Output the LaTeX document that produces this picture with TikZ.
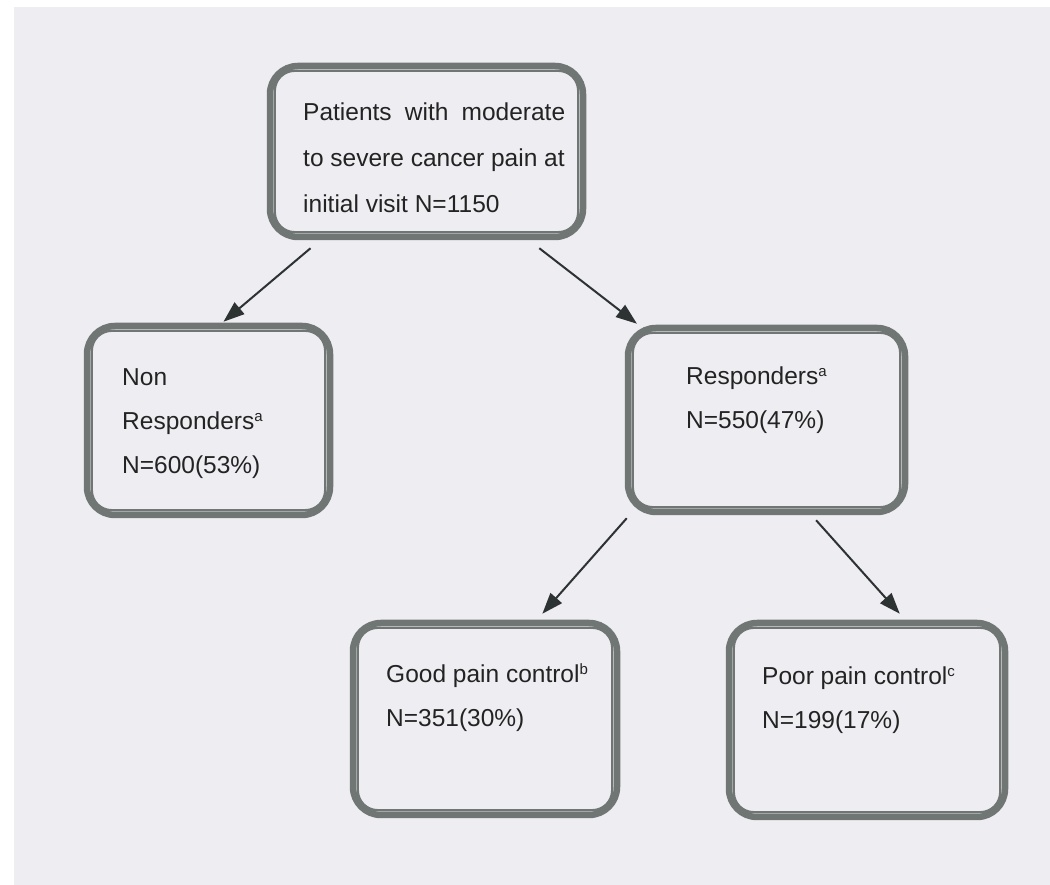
\documentclass[tikz,border=0pt]{standalone}
\usepackage{fontspec}
\setmainfont{Liberation Sans}
\usetikzlibrary{calc,arrows.meta}
\definecolor{paper}{RGB}{238,237,242}
\definecolor{frame}{RGB}{112,118,115}
\definecolor{ink}{RGB}{35,35,35}
\definecolor{arrowc}{RGB}{45,50,50}
\newcommand{\supmark}[1]{\raisebox{8pt}{\fontsize{15}{15}\selectfont #1}}

\begin{document}
\begin{tikzpicture}[x=1pt,y=1pt,
  flowbox/.style={draw=frame, line width=6.5pt, rounded corners=28pt, inner sep=0pt},
  innerline/.style={draw=frame, line width=2.4pt, rounded corners=20pt},
  label/.style={anchor=base west, inner sep=0pt, text=ink, font=\fontsize{24.5}{44}\selectfont},
  link/.style={draw=arrowc, line width=2pt, -{Triangle[length=21pt,width=15pt]}}]
\useasboundingbox (0,0) rectangle (1050,885);
\fill[paper] (14,0) rectangle (1050,878);

% boxes: thick outer frame
\node[flowbox, minimum width=313pt, minimum height=171pt] (top)  at (426.5,733.5) {};
\node[flowbox, minimum width=243pt, minimum height=189pt] (non)  at (208.5,464.5) {};
\node[flowbox, minimum width=277pt, minimum height=184pt] (resp) at (766.5,465) {};
\node[flowbox, minimum width=264pt, minimum height=192pt] (good) at (485,166) {};
\node[flowbox, minimum width=276pt, minimum height=194pt] (poor) at (867,165) {};

% thin inner frame of each box
\foreach \b in {top,non,resp,good,poor}
  \draw[innerline] ($(\b.south west)+(8,8)$) rectangle ($(\b.north east)-(8,8)$);

% texts
\node[label, font=\fontsize{24.5}{46}\selectfont] (topT) at (303,764) {\begin{tabular}[t]{@{}l@{}}\makebox[262pt][s]{Patients with moderate}\\ to severe cancer pain at\\ initial visit N=1150\end{tabular}};
\node[label] (nonT) at (122,499) {\begin{tabular}[t]{@{}l@{}}Non\\ Responders\supmark{a}\\ N=600(53\%)\end{tabular}};
\node[label] (respT) at (686,500) {\begin{tabular}[t]{@{}l@{}}Responders\supmark{a}\\ N=550(47\%)\end{tabular}};
\node[label] (goodT) at (386,202) {\begin{tabular}[t]{@{}l@{}}Good pain control\supmark{b}\\ N=351(30\%)\end{tabular}};
\node[label] (poorT) at (762,200) {\begin{tabular}[t]{@{}l@{}}Poor pain control\supmark{c}\\ N=199(17\%)\end{tabular}};

% connectors
\draw[link] ($(top.south west)!0.137!(top.south east)+(0,-8)$) -- ($(non.north west)!0.56!(non.north east)+(0,1)$);
\draw[link] ($(top.south west)!0.853!(top.south east)+(0,-8)$) -- ($(resp.north west)!0.043!(resp.north east)+(0,1)$);
\draw[link] ($(resp.south west)!0.007!(resp.south east)+(0,-3)$) -- ($(good.north west)!0.712!(good.north east)+(0,6)$);
\draw[link] ($(resp.south west)!0.675!(resp.south east)+(0,-5)$) -- ($(poor.north west)!0.616!(poor.north east)+(0,6)$);
\end{tikzpicture}
\end{document}
